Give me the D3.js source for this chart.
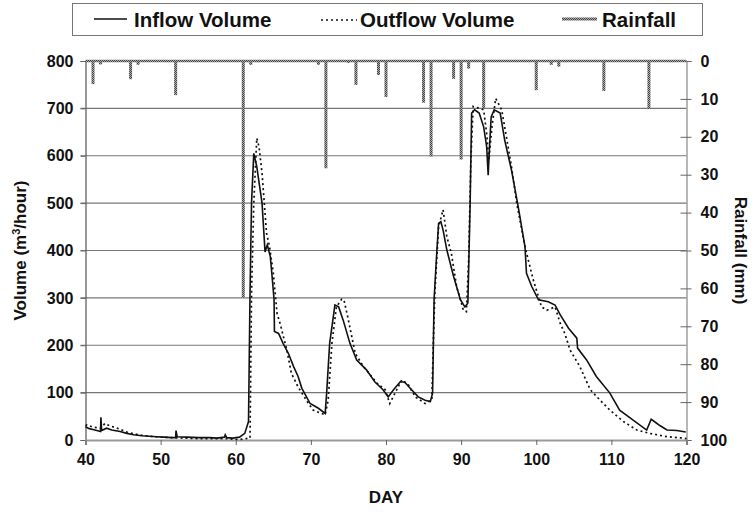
<!DOCTYPE html>
<html>
<head>
<meta charset="utf-8">
<script src="https://cdn.jsdelivr.net/npm/d3@7"></script>
<style>
  html, body { margin: 0; padding: 0; background: #fff; }
  svg text { font-family: "Liberation Sans", Arial, sans-serif; font-weight: bold; fill: #111; }
</style>
</head>
<body>
<div id="chart"></div>
<script>
// inflow volume (m3/hour) by day
const inflowDays = [40, 40.5, 41, 41.5, 42, 42.05, 42.15, 42.8, 43.5, 44.6, 45.5, 46.4, 47.5, 48.5, 49.5, 50.5, 51.5, 52, 52.05, 52.2, 53.5, 55, 56.5, 57.5, 58.5, 58.6, 58.8, 59.6, 60.5, 61.2, 61.7, 61.9, 62.1, 62.4, 62.8, 63.5, 63.9, 64.2, 64.6, 64.8, 65.1, 65.15, 65.7, 66.3, 67, 67.7, 68.3, 68.8, 69.9, 71, 71.9, 72.1, 72.5, 73.2, 73.7, 74.3, 75.2, 76.1, 77.4, 78.5, 79.6, 80.3, 81, 81.9, 82.5, 83.4, 84.3, 85.2, 85.9, 86.2, 86.4, 86.7, 87, 87.3, 87.6, 88.1, 89, 89.9, 90.5, 90.9, 91.2, 91.4, 91.8, 92.4, 93, 93.4, 93.6, 93.8, 94, 94.4, 95.2, 95.8, 96.7, 97.6, 98.5, 98.7, 99.4, 100.3, 101.6, 102.5, 103.2, 104.3, 105.4, 105.5, 106.7, 108, 109.8, 111.1, 112.9, 114.7, 115.3, 115.8, 116.5, 117.4, 118.7, 119.9];
const inflowValues = [28, 24, 22, 20, 18, 48, 20, 25, 21, 18, 14, 11, 9, 8, 7, 6, 5, 5, 20, 7, 6, 5, 5, 4, 6, 11, 5, 4, 6, 14, 39, 310, 500, 605, 577, 500, 397, 412, 387, 352, 296, 229, 225, 204, 183, 155, 134, 109, 77, 67, 56, 99, 204, 285, 281, 253, 204, 169, 148, 123, 106, 91, 106, 123, 122, 106, 91, 84, 81, 99, 296, 380, 457, 461, 443, 401, 345, 296, 281, 289, 500, 690, 697, 690, 661, 619, 559, 626, 682, 697, 690, 633, 570, 492, 408, 352, 324, 296, 292, 285, 264, 236, 215, 194, 169, 134, 99, 63, 42, 21, 44, 38, 30, 21, 20, 17];

// outflow volume (m3/hour) by day
const outflowDays = [40, 40.2, 41, 42, 42.6, 43.2, 44.2, 45.5, 46.4, 47.5, 48.5, 50, 51.5, 53, 55, 57, 58.5, 59.5, 60.5, 61.9, 62.1, 62.4, 62.8, 63.1, 63.5, 64.1, 64.5, 65, 65.5, 65.9, 66.8, 67.4, 68.3, 69.4, 70.3, 71.9, 72.3, 72.8, 73.4, 74.1, 74.4, 75, 75.9, 77, 78.8, 79.9, 80.5, 81.2, 82.1, 83, 83.9, 85.2, 86.1, 86.3, 86.5, 87, 87.6, 88.1, 88.7, 89.4, 90.3, 90.7, 91, 91.3, 91.6, 92.5, 93, 93.4, 93.7, 94.1, 94.6, 95.4, 96.1, 96.7, 97.4, 98.5, 99.6, 100.7, 101.4, 102.5, 103.2, 103.8, 104.5, 105.8, 107.2, 108.5, 109.8, 111.6, 113.4, 115.1, 117.4, 119.6, 120];
const outflowValues = [30, 32, 27, 25, 35, 30, 25, 17, 13, 10, 8, 6, 5, 4, 3, 3, 3, 2, 1, 4, 310, 500, 637, 619, 563, 436, 408, 352, 267, 246, 190, 141, 112, 84, 63, 53, 84, 204, 281, 297, 296, 253, 183, 155, 120, 106, 77, 99, 127, 116, 91, 77, 84, 204, 310, 450, 486, 429, 394, 324, 274, 271, 380, 591, 704, 700, 697, 647, 591, 661, 721, 697, 633, 577, 500, 408, 338, 281, 274, 281, 246, 225, 190, 155, 106, 84, 63, 39, 21, 14, 7, 4, 3];

// rainfall (mm) by day
const rainDays = [41, 42, 46, 47, 51, 52, 61, 62, 63, 71, 72, 75, 76, 77, 79, 80, 85, 86, 87, 89, 90, 91, 93, 100, 102, 103, 104, 109, 115, 118];
const rainMm = [6.1, 0.9, 4.8, 1.0, 0.3, 9.0, 62.5, 1.0, 0.3, 1.0, 28.3, 0.5, 6.3, 0.3, 3.7, 9.5, 11.0, 25.2, 0.3, 4.7, 26.0, 2.0, 12.5, 7.7, 1.0, 1.5, 0.3, 7.9, 12.7, 0.3];

const volTicks = [0, 100, 200, 300, 400, 500, 600, 700, 800];
const rainTicks = [0, 10, 20, 30, 40, 50, 60, 70, 80, 90, 100];
const dayTicks = [40, 50, 60, 70, 80, 90, 100, 110, 120];

const W = 754, H = 512;
const margin = { top: 61, right: 67.5, bottom: 72, left: 85.5 };

const svg = d3.select('#chart').append('svg')
  .attr('width', W).attr('height', H);

// gray stipple used for the rainfall marks
const defs = svg.append('defs');
const pat = defs.append('pattern')
  .attr('id', 'rainPat').attr('patternUnits', 'userSpaceOnUse')
  .attr('width', 2).attr('height', 2);
pat.append('rect').attr('width', 2).attr('height', 2).attr('fill', '#aaa');
pat.append('rect').attr('width', 1).attr('height', 1).attr('fill', '#444');
pat.append('rect').attr('x', 1).attr('y', 1).attr('width', 1).attr('height', 1).attr('fill', '#444');

const x = d3.scaleLinear().domain([40, 120]).range([margin.left, W - margin.right]);
const y = d3.scaleLinear().domain([0, 800]).range([H - margin.bottom, margin.top]);
const yR = d3.scaleLinear().domain([0, 100]).range([margin.top, H - margin.bottom]);

// gridlines
svg.append('g')
  .selectAll('line')
  .data(volTicks.filter(d => d > 0 && d < 800))
  .join('line')
  .attr('x1', x(40) - 5).attr('x2', x(120))
  .attr('y1', d => y(d)).attr('y2', d => y(d))
  .attr('stroke', '#777').attr('stroke-width', 1.2);

// left axis
const left = svg.append('g')
  .attr('transform', `translate(${x(40)},0)`)
  .call(d3.axisLeft(y).tickValues(volTicks).tickSize(5).tickPadding(7));
left.select('.domain').attr('stroke', '#555').attr('stroke-width', 1.2);
left.selectAll('.tick line').attr('stroke', '#666');
left.selectAll('.tick text').style('font-size', '16px');

// right axis (rainfall, reversed)
const right = svg.append('g')
  .attr('transform', `translate(${x(120)},0)`)
  .call(d3.axisRight(yR).tickValues(rainTicks).tickSize(5).tickPadding(9));
right.select('.domain').attr('stroke', '#888').attr('stroke-width', 1.2);
right.selectAll('.tick line').attr('stroke', '#666').attr('x1', -6);
right.selectAll('.tick text').style('font-size', '16px');

// bottom axis
const bottom = svg.append('g')
  .attr('transform', `translate(0,${y(0)})`)
  .call(d3.axisBottom(x).tickValues(dayTicks).tickSize(5).tickPadding(9));
bottom.select('.domain').attr('stroke', '#999').attr('stroke-width', 2);
bottom.selectAll('.tick line').attr('stroke', '#666');
bottom.selectAll('.tick text').style('font-size', '16px');

// rainfall marks hanging from the top
svg.append('line')
  .attr('x1', x(40)).attr('x2', x(120))
  .attr('y1', yR(0)).attr('y2', yR(0))
  .attr('stroke', 'url(#rainPat)').attr('stroke-width', 2.5);

svg.append('g')
  .selectAll('rect')
  .data(rainDays.map((d, i) => ({ day: d, mm: rainMm[i] })))
  .join('rect')
  .attr('x', d => x(d.day) - 1.5)
  .attr('width', 3)
  .attr('y', yR(0))
  .attr('height', d => yR(d.mm) - yR(0))
  .attr('fill', 'url(#rainPat)');

// volume lines
const line = d3.line().x(d => x(d[0])).y(d => y(d[1]));

svg.append('path')
  .datum(outflowDays.map((d, i) => [d, outflowValues[i]]))
  .attr('d', line)
  .attr('fill', 'none').attr('stroke', '#111')
  .attr('stroke-width', 1.7).attr('stroke-dasharray', '2,3');

svg.append('path')
  .datum(inflowDays.map((d, i) => [d, inflowValues[i]]))
  .attr('d', line)
  .attr('fill', 'none').attr('stroke', '#111')
  .attr('stroke-width', 1.6);

// axis titles
svg.append('text')
  .attr('transform', `translate(26,${(y(0) + y(800)) / 2}) rotate(-90)`)
  .attr('text-anchor', 'middle').style('font-size', '17px')
  .call(t => {
    t.append('tspan').text('Volume  (m');
    t.append('tspan').attr('dy', -6).style('font-size', '11px').text('3');
    t.append('tspan').attr('dy', 6).text('/hour)');
  });

svg.append('text')
  .attr('transform', `translate(735,${(yR(0) + yR(100)) / 2}) rotate(90)`)
  .attr('text-anchor', 'middle').style('font-size', '17px')
  .text('Rainfall  (mm)');

svg.append('text')
  .attr('x', (x(40) + x(120)) / 2).attr('y', 503)
  .attr('text-anchor', 'middle').style('font-size', '17px')
  .text('DAY');

// legend
const lg = svg.append('g');
lg.append('rect')
  .attr('x', 72.5).attr('y', 3.5).attr('width', 630).attr('height', 32)
  .attr('fill', '#fff').attr('stroke', '#777');
lg.append('line').attr('x1', 94).attr('x2', 127).attr('y1', 19).attr('y2', 19)
  .attr('stroke', '#111').attr('stroke-width', 1.6);
lg.append('text').attr('x', 134).attr('y', 27).style('font-size', '20.5px').text('Inflow Volume');
lg.append('line').attr('x1', 321).attr('x2', 357).attr('y1', 20).attr('y2', 20)
  .attr('stroke', '#111').attr('stroke-width', 1.6).attr('stroke-dasharray', '2,3');
lg.append('text').attr('x', 360).attr('y', 27).style('font-size', '20.5px').text('Outflow Volume');
lg.append('line').attr('x1', 562).attr('x2', 597).attr('y1', 19).attr('y2', 19)
  .attr('stroke', 'url(#rainPat)').attr('stroke-width', 3);
lg.append('text').attr('x', 602).attr('y', 27).style('font-size', '20.5px').text('Rainfall');
</script>
</body>
</html>
